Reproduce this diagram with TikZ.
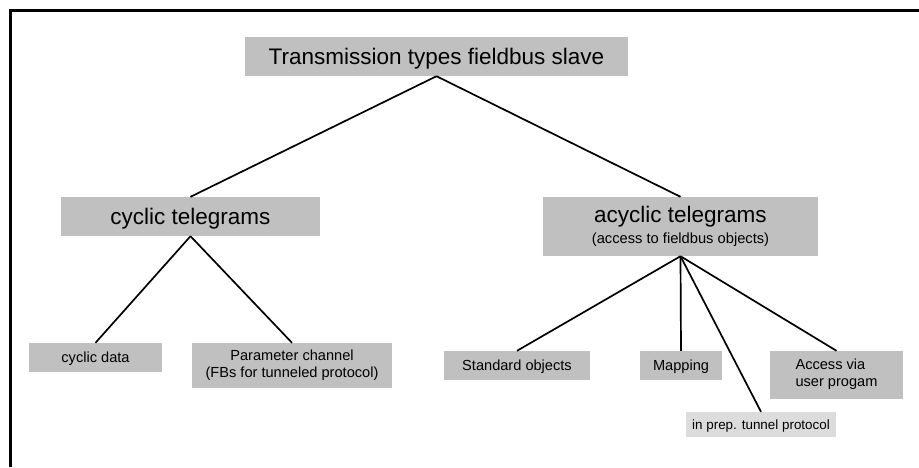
\documentclass[tikz,border=0pt]{standalone}
\usepackage{fontspec}
\setmainfont{Liberation Sans}
\definecolor{boxgray}{HTML}{C0C0C0}
\definecolor{lightgray}{HTML}{DCDCDC}
\begin{document}
\begin{tikzpicture}[x=1pt,y=-1pt,
  box/.style={fill=boxgray, draw=none, inner sep=0pt, align=center, text=black},
  big/.style={font=\fontsize{22.5}{25}\selectfont, text height=16pt, text depth=0pt},
  small/.style={font=\fontsize{14.6}{17}\selectfont},
  smallone/.style={small, text height=10.5pt, text depth=0pt},
  conn/.style={line width=1.7pt, black},
  frame/.style={line width=3pt, black}]
\useasboundingbox (0,0) rectangle (919,467);
\draw[frame] (10.5,467) -- (10.5,10) -- (919,10);

\node[box, big, minimum width=383pt, minimum height=39pt] (top) at (436.5,56.5) {Transmission types fieldbus slave};
\node[box, big, minimum width=259pt, minimum height=39pt] (cyc) at (190.5,216.5) {cyclic telegrams};
\node[box, minimum width=275pt, minimum height=59pt] (acyc) at (680.5,226.5)
  {\fontsize{22.5}{25}\selectfont acyclic telegrams\\[5pt]\fontsize{14.7}{17}\selectfont (access to fieldbus objects)};

\node[box, smallone, minimum width=133pt, minimum height=29pt] (cdata) at (95.5,357.5) {cyclic data};
\node[box, small, minimum width=200pt, minimum height=45pt] (param) at (292,365.5) {Parameter channel\\(FBs for tunneled protocol)};
\node[box, smallone, minimum width=146pt, minimum height=29pt] (std) at (517,365.5) {Standard objects};
\node[box, smallone, minimum width=82pt, minimum height=29pt] (map) at (681,365.5) {Mapping};
\node[box, small, minimum width=133pt, minimum height=48pt] (acc) at (836.5,375) {\begin{tabular}{@{}l@{}}Access via\\user progam\end{tabular}};
\node[box, fill=lightgray, font=\fontsize{13.4}{16}\selectfont, text height=9.6pt, text depth=0pt, minimum width=150pt, minimum height=25pt] (prep) at (761,424.5) {in prep. tunnel protocol};

\draw[conn] (top.south) -- (cyc.north);
\draw[conn] (top.south) -- (acyc.north);
\draw[conn] (cyc.south) -- (cdata.north);
\draw[conn] (cyc.south) -- (param.north);
\draw[conn] (acyc.south) -- (std.north);
\draw[conn] (acyc.south) -- (map.north);
\draw[conn] (acyc.south) -- (prep.north);
\draw[conn] (acyc.south) -- (acc.north);
\end{tikzpicture}
\end{document}
